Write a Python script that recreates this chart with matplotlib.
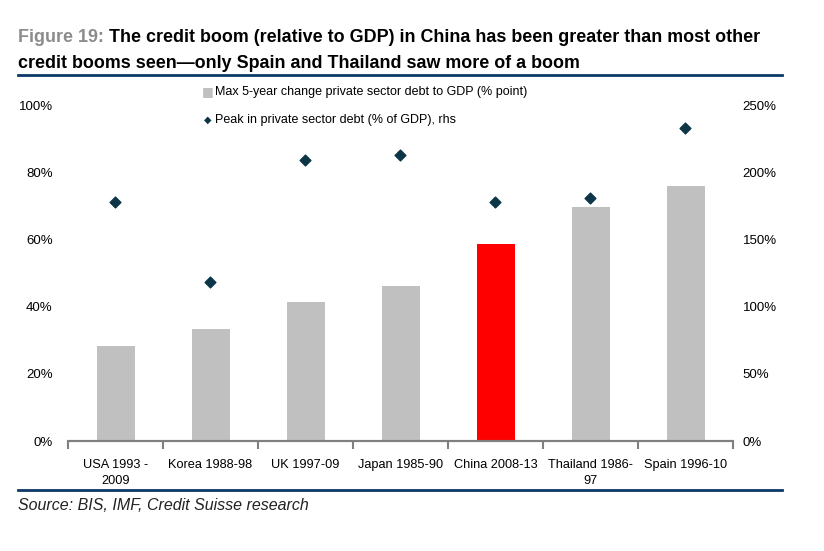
import matplotlib
matplotlib.use("Agg")
import matplotlib.pyplot as plt
from matplotlib.lines import Line2D
from matplotlib.ticker import FuncFormatter, MultipleLocator
import numpy as np

categories = ["USA 1993 -\n2009", "Korea 1988-98", "UK 1997-09", "Japan 1985-90",
              "China 2008-13", "Thailand 1986-\n97", "Spain 1996-10"]
max_change = [28.3, 33.3, 41.4, 46.1, 58.6, 69.6, 75.9]
peak_debt = [178, 118, 209, 213, 178, 181, 233]
bar_colors = ["#c0c0c0", "#c0c0c0", "#c0c0c0", "#c0c0c0", "#ff0000", "#c0c0c0", "#c0c0c0"]

fam = ["Liberation Sans", "DejaVu Sans"]
plt.rcParams['font.family'] = fam

fig = plt.figure(figsize=(8.24, 5.51), dpi=100)
W, H = 824, 551
ax = fig.add_axes([68 / W, 1 - 441 / H, (733 - 68) / W, (441 - 105) / H])
ax2 = ax.twinx()

x = np.arange(len(categories))
ax.bar(x, max_change, width=0.4, color=bar_colors, zorder=2)
ax2.scatter(x, peak_debt, marker="D", s=30, color="#0c3547", zorder=3)

ax.set_xlim(-0.5, len(categories) - 0.5)
ax.set_ylim(0, 100)
ax2.set_ylim(0, 250)
ax.yaxis.set_major_locator(MultipleLocator(20))
ax2.yaxis.set_major_locator(MultipleLocator(50))
pct = FuncFormatter(lambda v, p: f"{v:.0f}%")
ax.yaxis.set_major_formatter(pct)
ax2.yaxis.set_major_formatter(pct)

for a in (ax, ax2):
    for s in ("top", "left", "right"):
        a.spines[s].set_visible(False)
    a.spines["bottom"].set_color("#808080")
    a.spines["bottom"].set_linewidth(1.5)
ax.tick_params(axis="y", length=0, labelsize=9.5, pad=11)
ax2.tick_params(axis="y", length=0, labelsize=9.5, pad=7)

ax.set_xticks(x)
ax.set_xticklabels(categories, fontsize=9.2, linespacing=1.45)
ax.set_xticks(np.arange(-0.5, len(categories), 1), minor=True)
ax.tick_params(axis="x", which="major", length=0, pad=13)
ax.tick_params(axis="x", which="minor", length=6, color="#808080", width=1.5, direction="out")

# legend entries
fig.text(208 / W, 1 - 92 / H, "\u25A0", color="#c0c0c0", fontsize=9, ha="center", va="center",
         family=["DejaVu Sans"])
fig.text(215 / W, 1 - 92 / H, "Max 5-year change private sector debt to GDP (% point)",
         fontsize=9, ha="left", va="center")
fig.text(208 / W, 1 - 120 / H, "\u25C6", color="#0c3547", fontsize=7, ha="center", va="center",
         family=["DejaVu Sans"])
fig.text(215 / W, 1 - 120 / H, "Peak in private sector debt (% of GDP), rhs",
         fontsize=9, ha="left", va="center")

# title
tfam = ["Liberation Sans", "DejaVu Sans"]
t1 = fig.text(18 / W, 1 - 37 / H, "Figure 19: ", color="#8c8c8c", fontsize=12.9, fontweight="bold",
              ha="left", va="center", family=tfam)
fig.canvas.draw()
bb = t1.get_window_extent()
fig.text(bb.x1 / W, 1 - 37 / H, "The credit boom (relative to GDP) in China has been greater than most other",
         color="#000000", fontsize=12.9, fontweight="bold", ha="left", va="center", family=tfam)
fig.text(18 / W, 1 - 64 / H, "credit booms seen\u2014only Spain and Thailand saw more of a boom",
         color="#000000", fontsize=12.9, fontweight="bold", ha="left", va="center", family=tfam)

fig.add_artist(Line2D([18 / W, 782 / W], [1 - 75 / H, 1 - 75 / H], color="#0b3a66", lw=2))
fig.add_artist(Line2D([18 / W, 782 / W], [1 - 490 / H, 1 - 490 / H], color="#0b3a66", lw=2))

fig.text(18 / W, 1 - 506 / H, "Source: BIS, IMF, Credit Suisse research", fontsize=11.5,
         style="italic", ha="left", va="center", color="#222222")

fig.savefig("out.png", dpi=100)
